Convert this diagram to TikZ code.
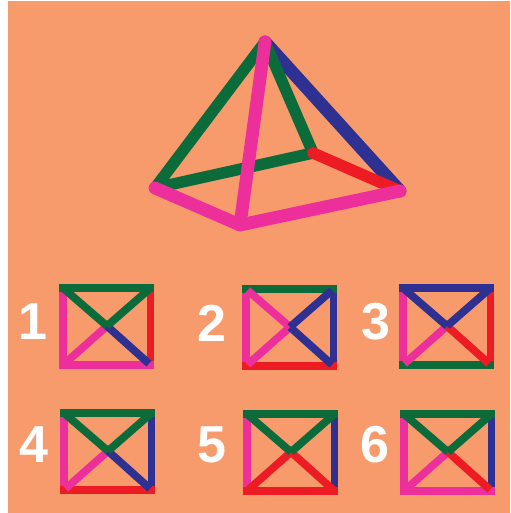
\documentclass[tikz,border=0pt]{standalone}
\usepackage{fontspec}
\setsansfont{Liberation Sans}
\usepackage{xcolor}
\definecolor{bgorange}{HTML}{F79B6C}
\definecolor{rodgreen}{HTML}{0B6B3A}
\definecolor{rodblue}{HTML}{2E3192}
\definecolor{rodpink}{HTML}{EC2F9B}
\definecolor{rodred}{HTML}{ED1C24}
\tikzset{
    pyr/.style={line width=8.6pt, line cap=round},
    pyrback/.style={line width=9.6pt, line cap=round},
    pyrfront/.style={line width=9.6pt, line cap=round, line join=round},
    side/.style={line width=5.6pt, line cap=rect},
    diag/.style={line width=5.8pt, line cap=butt, shorten <=1.5pt},
    numlab/.style={white, font=\sffamily\bfseries\fontsize{39}{39}\selectfont, inner sep=0pt}
}
\begin{document}
\begin{tikzpicture}[x=0.75pt, y=-0.75pt]
    \useasboundingbox (0,0) rectangle (510,513);
    \fill[white] (0,0) rectangle (510,513);
    \fill[bgorange] (8,1) rectangle (510,513);
    \coordinate (apex) at (265,42);
    \coordinate (left) at (155,188);
    \coordinate (back) at (313,153);
    \coordinate (right) at (400,191);
    \coordinate (front) at (240,225);
    \draw[pyrback, rodblue] (apex) -- (right);
    \draw[pyr, rodgreen] (apex) -- (left);
    \draw[pyr, rodgreen] (apex) -- (back);
    \draw[pyr, rodgreen] (left) -- (back);
    \draw[pyr, rodred] (back) -- (right);
    \draw[pyrfront, rodpink] (left) -- (front) -- (right);
    \draw[pyrfront, rodpink] (apex) -- (front);
    \foreach \lab/\lx/\ly/\px/\py/\ct/\cr/\cb/\cl/\dtl/\dtr/\dbr/\dbl in {
        1/33/322/63/288/rodgreen/rodred/rodpink/rodpink/rodgreen/rodgreen/rodblue/rodpink,
        2/212/323/246/289/rodgreen/rodblue/rodred/rodpink/rodpink/rodblue/rodblue/rodpink,
        3/376/322/403/288/rodblue/rodred/rodgreen/rodpink/rodblue/rodblue/rodred/rodpink,
        4/34/445/64/413/rodgreen/rodblue/rodred/rodpink/rodgreen/rodgreen/rodblue/rodpink,
        5/212/445/247/414/rodgreen/rodblue/rodred/rodpink/rodgreen/rodgreen/rodred/rodred,
        6/375/445/404/414/rodgreen/rodblue/rodpink/rodpink/rodgreen/rodgreen/rodred/rodpink} {
        \begin{scope}[shift={(\px,\py)}]
            \node[numlab] (num\lab) at (\lx-\px,\ly-\py) {\lab};
            \coordinate (tl\lab) at (0,0);
            \coordinate (tr\lab) at (87.5,0);
            \coordinate (br\lab) at (87.5,77);
            \coordinate (bl\lab) at (0,77);
            \coordinate (mid\lab) at (44,38);
            \draw[side, \cl] (tl\lab) -- (bl\lab);
            \draw[side, \cr] (tr\lab) -- (br\lab);
            \draw[side, \ct] (tl\lab) -- (tr\lab);
            \draw[side, \cb] (bl\lab) -- (br\lab);
            \draw[diag, \dbl] (bl\lab) -- (mid\lab);
            \draw[diag, \dbr] (br\lab) -- (mid\lab);
            \draw[diag, \dtl] (tl\lab) -- (mid\lab);
            \draw[diag, \dtr] (tr\lab) -- (mid\lab);
        \end{scope}
    }
\end{tikzpicture}
\end{document}
